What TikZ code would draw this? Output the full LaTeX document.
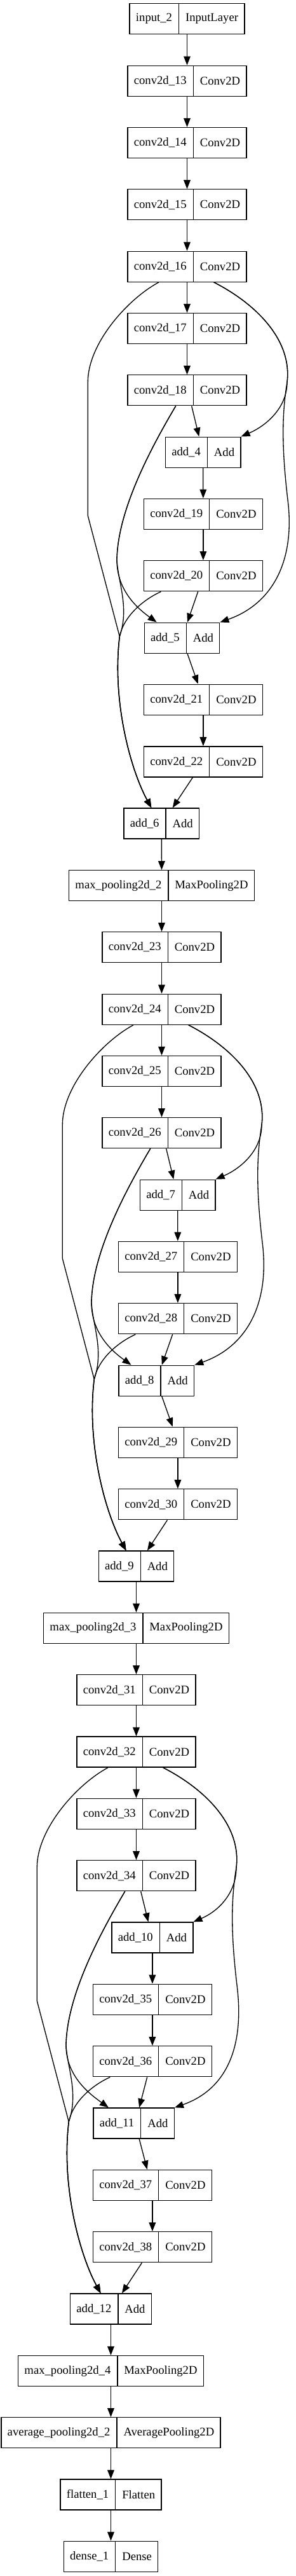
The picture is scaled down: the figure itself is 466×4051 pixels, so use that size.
\documentclass[tikz,border=0pt]{standalone}
\usepackage{fontspec}
\setmainfont{Liberation Serif}
\usetikzlibrary{arrows.meta,calc,shapes.multipart}

\begin{document}
\begin{tikzpicture}[>={Triangle[length=10.5pt,width=8pt]},x=0.75pt,y=-0.75pt,line width=1pt]
  \tikzstyle{layerbox}=[draw,rectangle split,rectangle split horizontal,rectangle split parts=2,inner xsep=7.4pt,inner ysep=0pt,minimum height=36pt,font=\fontsize{14pt}{16pt}\selectfont]
  \useasboundingbox (0,0) rectangle (466,4051);

  % stem
  \node[layerbox] (in2) at (294.5,29.7) {input\_2 \nodepart{two} InputLayer};
  \node[layerbox] (c13) at (294.5,127.2) {conv2d\_13 \nodepart{two} Conv2D};
  \node[layerbox] (c14) at (294.5,224.5) {conv2d\_14 \nodepart{two} Conv2D};
  \node[layerbox] (c15) at (294.5,321.8) {conv2d\_15 \nodepart{two} Conv2D};
  \node[layerbox] (c16) at (294.5,419.2) {conv2d\_16 \nodepart{two} Conv2D};

  % block 1
  \node[layerbox] (c17) at (294.5,516.5) {conv2d\_17 \nodepart{two} Conv2D};
  \node[layerbox] (c18) at (294.5,613.8) {conv2d\_18 \nodepart{two} Conv2D};
  \node[layerbox] (a4) at (319.7,711.2) {add\_4 \nodepart{two} Add};
  \node[layerbox] (c19) at (319.9,808.3) {conv2d\_19 \nodepart{two} Conv2D};
  \node[layerbox] (c20) at (319.9,905.7) {conv2d\_20 \nodepart{two} Conv2D};
  \node[layerbox] (a5) at (286.5,1003.2) {add\_5 \nodepart{two} Add};
  \node[layerbox] (c21) at (319.9,1100.2) {conv2d\_21 \nodepart{two} Conv2D};
  \node[layerbox] (c22) at (319.9,1197.9) {conv2d\_22 \nodepart{two} Conv2D};
  \node[layerbox] (a6) at (254.3,1295) {add\_6 \nodepart{two} Add};
  \node[layerbox] (mp2) at (254.5,1392.7) {max\_pooling2d\_2 \nodepart{two} MaxPooling2D};
  \node[layerbox] (c23) at (254.5,1489.7) {conv2d\_23 \nodepart{two} Conv2D};
  \node[layerbox] (c24) at (254.5,1587.2) {conv2d\_24 \nodepart{two} Conv2D};

  % block 2
  \node[layerbox] (c25) at (254.5,1684.4) {conv2d\_25 \nodepart{two} Conv2D};
  \node[layerbox] (c26) at (254.5,1781.7) {conv2d\_26 \nodepart{two} Conv2D};
  \node[layerbox] (a7) at (279.7,1879.2) {add\_7 \nodepart{two} Add};
  \node[layerbox] (c27) at (279.9,1976.3) {conv2d\_27 \nodepart{two} Conv2D};
  \node[layerbox] (c28) at (279.9,2073.7) {conv2d\_28 \nodepart{two} Conv2D};
  \node[layerbox] (a8) at (246.3,2171.2) {add\_8 \nodepart{two} Add};
  \node[layerbox] (c29) at (279.9,2268.3) {conv2d\_29 \nodepart{two} Conv2D};
  \node[layerbox] (c30) at (279.9,2365.8) {conv2d\_30 \nodepart{two} Conv2D};
  \node[layerbox] (a9) at (214.5,2463) {add\_9 \nodepart{two} Add};
  \node[layerbox] (mp3) at (214.5,2560.3) {max\_pooling2d\_3 \nodepart{two} MaxPooling2D};
  \node[layerbox] (c31) at (214.5,2657.7) {conv2d\_31 \nodepart{two} Conv2D};
  \node[layerbox] (c32) at (214.5,2755) {conv2d\_32 \nodepart{two} Conv2D};

  % block 3
  \node[layerbox] (c33) at (214.5,2852.3) {conv2d\_33 \nodepart{two} Conv2D};
  \node[layerbox] (c34) at (214.5,2949.7) {conv2d\_34 \nodepart{two} Conv2D};
  \node[layerbox] (a10) at (239.9,3047) {add\_10 \nodepart{two} Add};
  \node[layerbox] (c35) at (239.9,3144.3) {conv2d\_35 \nodepart{two} Conv2D};
  \node[layerbox] (c36) at (239.9,3241.7) {conv2d\_36 \nodepart{two} Conv2D};
  \node[layerbox] (a11) at (210.7,3339) {add\_11 \nodepart{two} Add};
  \node[layerbox] (c37) at (239.9,3436.3) {conv2d\_37 \nodepart{two} Conv2D};
  \node[layerbox] (c38) at (239.9,3533.7) {conv2d\_38 \nodepart{two} Conv2D};
  \node[layerbox] (a12) at (174.5,3631) {add\_12 \nodepart{two} Add};

  % head
  \node[layerbox] (mp4) at (174.5,3728.5) {max\_pooling2d\_4 \nodepart{two} MaxPooling2D};
  \node[layerbox] (ap2) at (174.5,3825.7) {average\_pooling2d\_2 \nodepart{two} AveragePooling2D};
  \node[layerbox] (fl1) at (174.5,3923) {flatten\_1 \nodepart{two} Flatten};
  \node[layerbox] (d1) at (174.5,4020.3) {dense\_1 \nodepart{two} Dense};

  \draw[->] (in2) -- (c13);
  \draw[->] (c13) -- (c14);
  \draw[->] (c14) -- (c15);
  \draw[->] (c15) -- (c16);

  % block 1 edges
  \coordinate (l16a) at ($(c16.south)+(-156.2,157)$);
  \coordinate (l16b) at ($(c16.south)+(-156.2,367)$);
  \coordinate (j6) at ($(c16.south)+(-106.2,557)$);
  \coordinate (r16a) at ($(c16.south)+(157.5,157)$);
  \coordinate (r16b) at ($(c16.south)+(158.5,342)$);
  \coordinate (f18) at ($(c16.south)+(-110.5,437)$);
  \draw[->] (c16) -- (c17);
  \draw[->] (c17) -- (c18);
  \draw[->] ($(c18.south)+(7.2,0)$) -- ($(a4.north)+(-6.4,0)$);
  \draw[->] ($(c16.south)+(42.2,0)$) .. controls +(68.3,35) and +(8,-65) .. (r16a) .. controls +(0,40) and +(40,-17.3) .. (a4.north east);
  \draw[->] ($(c16.south)+(42.2,0)$) .. controls +(68.3,35) and +(8,-65) .. (r16a) .. controls +(-8,50) and +(-10,-85) .. (r16b) .. controls +(12,95) and +(83.3,-29.3) .. (a5.north east);
  \draw[->] ($(c16.south)+(-44.5,0)$) .. controls +(-50,27) and +(0,-60) .. (l16a) -- (l16b) -- (j6) .. controls +(-12.3,100) and +(-33.3,-61) .. ($(a6.north)+(-16,0)$);
  \draw[->] ($(c18.south)+(-17.8,0)$) .. controls +(-36.7,62) and +(1,-80) .. (f18) .. controls +(0,50) and +(-26.7,-19.3) .. ($(a5.north)+(-39.8,0)$);
  \draw[->] ($(c18.south)+(-17.8,0)$) .. controls +(-36.7,62) and +(1,-80) .. (f18) .. controls +(2,35) and +(15.7,-45) .. (j6) .. controls +(-12.3,100) and +(-33.3,-61) .. ($(a6.north)+(-16,0)$);
  \draw[->] (a4) -- (c19);
  \draw[->] (c19) -- (c20);
  \draw[->] ($(c20.south)+(-8.2,0)$) -- ($(a5.north)+(8.5,0)$);
  \draw[->] ($(c20.south)+(-66.5,0)$) .. controls +(-28.3,13) and +(6.7,-32) .. (j6) .. controls +(-12.3,100) and +(-33.3,-61) .. ($(a6.north)+(-16,0)$);
  \draw[->] ($(a5.south)+(8.5,0)$) -- ($(c21.north)+(-8.2,0)$);
  \draw[->] (c21) -- (c22);
  \draw[->] ($(c22.south)+(-16.5,0)$) -- ($(a6.north)+(17.4,0)$);
  \draw[->] (a6) -- (mp2);
  \draw[->] (mp2) -- (c23);
  \draw[->] (c23) -- (c24);

  % block 2 edges
  \coordinate (l24a) at ($(c24.south)+(-156.2,157)$);
  \coordinate (l24b) at ($(c24.south)+(-156.2,367)$);
  \coordinate (j9) at ($(c24.south)+(-106.2,557)$);
  \coordinate (r24a) at ($(c24.south)+(157.5,157)$);
  \coordinate (r24b) at ($(c24.south)+(158.5,342)$);
  \coordinate (f26) at ($(c24.south)+(-110.5,437)$);
  \draw[->] (c24) -- (c25);
  \draw[->] (c25) -- (c26);
  \draw[->] ($(c26.south)+(7.2,0)$) -- ($(a7.north)+(-6.4,0)$);
  \draw[->] ($(c24.south)+(42.2,0)$) .. controls +(68.3,35) and +(8,-65) .. (r24a) .. controls +(0,40) and +(40,-17.3) .. (a7.north east);
  \draw[->] ($(c24.south)+(42.2,0)$) .. controls +(68.3,35) and +(8,-65) .. (r24a) .. controls +(-8,50) and +(-10,-85) .. (r24b) .. controls +(12,95) and +(83.3,-29.3) .. (a8.north east);
  \draw[->] ($(c24.south)+(-44.5,0)$) .. controls +(-50,27) and +(0,-60) .. (l24a) -- (l24b) -- (j9) .. controls +(-12.3,100) and +(-33.3,-61) .. ($(a9.north)+(-16,0)$);
  \draw[->] ($(c26.south)+(-17.8,0)$) .. controls +(-36.7,62) and +(1,-80) .. (f26) .. controls +(0,50) and +(-26.7,-19.3) .. ($(a8.north)+(-39.8,0)$);
  \draw[->] ($(c26.south)+(-17.8,0)$) .. controls +(-36.7,62) and +(1,-80) .. (f26) .. controls +(2,35) and +(15.7,-45) .. (j9) .. controls +(-12.3,100) and +(-33.3,-61) .. ($(a9.north)+(-16,0)$);
  \draw[->] (a7) -- (c27);
  \draw[->] (c27) -- (c28);
  \draw[->] ($(c28.south)+(-8.2,0)$) -- ($(a8.north)+(8.5,0)$);
  \draw[->] ($(c28.south)+(-66.5,0)$) .. controls +(-28.3,13) and +(6.7,-32) .. (j9) .. controls +(-12.3,100) and +(-33.3,-61) .. ($(a9.north)+(-16,0)$);
  \draw[->] ($(a8.south)+(8.5,0)$) -- ($(c29.north)+(-8.2,0)$);
  \draw[->] (c29) -- (c30);
  \draw[->] ($(c30.south)+(-16.5,0)$) -- ($(a9.north)+(17.4,0)$);
  \draw[->] (a9) -- (mp3);
  \draw[->] (mp3) -- (c31);
  \draw[->] (c31) -- (c32);

  % block 3 edges
  \coordinate (l32a) at ($(c32.south)+(-156.2,157)$);
  \coordinate (l32b) at ($(c32.south)+(-156.2,367)$);
  \coordinate (j12) at ($(c32.south)+(-106.2,557)$);
  \coordinate (r32a) at ($(c32.south)+(157.5,157)$);
  \coordinate (r32b) at ($(c32.south)+(158.5,342)$);
  \coordinate (f34) at ($(c32.south)+(-110.5,437)$);
  \draw[->] (c32) -- (c33);
  \draw[->] (c33) -- (c34);
  \draw[->] ($(c34.south)+(7.2,0)$) -- ($(a10.north)+(-6.4,0)$);
  \draw[->] ($(c32.south)+(42.2,0)$) .. controls +(68.3,35) and +(8,-65) .. (r32a) .. controls +(0,40) and +(40,-17.3) .. (a10.north east);
  \draw[->] ($(c32.south)+(42.2,0)$) .. controls +(68.3,35) and +(8,-65) .. (r32a) .. controls +(-8,50) and +(-10,-85) .. (r32b) .. controls +(12,95) and +(83.3,-29.3) .. (a11.north east);
  \draw[->] ($(c32.south)+(-44.5,0)$) .. controls +(-50,27) and +(0,-60) .. (l32a) -- (l32b) -- (j12) .. controls +(-12.3,100) and +(-33.3,-61) .. ($(a12.north)+(-16,0)$);
  \draw[->] ($(c34.south)+(-17.8,0)$) .. controls +(-36.7,62) and +(1,-80) .. (f34) .. controls +(0,50) and +(-26.7,-19.3) .. ($(a11.north)+(-39.8,0)$);
  \draw[->] ($(c34.south)+(-17.8,0)$) .. controls +(-36.7,62) and +(1,-80) .. (f34) .. controls +(2,35) and +(15.7,-45) .. (j12) .. controls +(-12.3,100) and +(-33.3,-61) .. ($(a12.north)+(-16,0)$);
  \draw[->] (a10) -- (c35);
  \draw[->] (c35) -- (c36);
  \draw[->] ($(c36.south)+(-8.2,0)$) -- ($(a11.north)+(8.5,0)$);
  \draw[->] ($(c36.south)+(-66.5,0)$) .. controls +(-28.3,13) and +(6.7,-32) .. (j12) .. controls +(-12.3,100) and +(-33.3,-61) .. ($(a12.north)+(-16,0)$);
  \draw[->] ($(a11.south)+(8.5,0)$) -- ($(c37.north)+(-8.2,0)$);
  \draw[->] (c37) -- (c38);
  \draw[->] ($(c38.south)+(-16.5,0)$) -- ($(a12.north)+(17.4,0)$);

  % head edges
  \draw[->] (a12) -- (mp4);
  \draw[->] (mp4) -- (ap2);
  \draw[->] (ap2) -- (fl1);
  \draw[->] (fl1) -- (d1);
\end{tikzpicture}
\end{document}
